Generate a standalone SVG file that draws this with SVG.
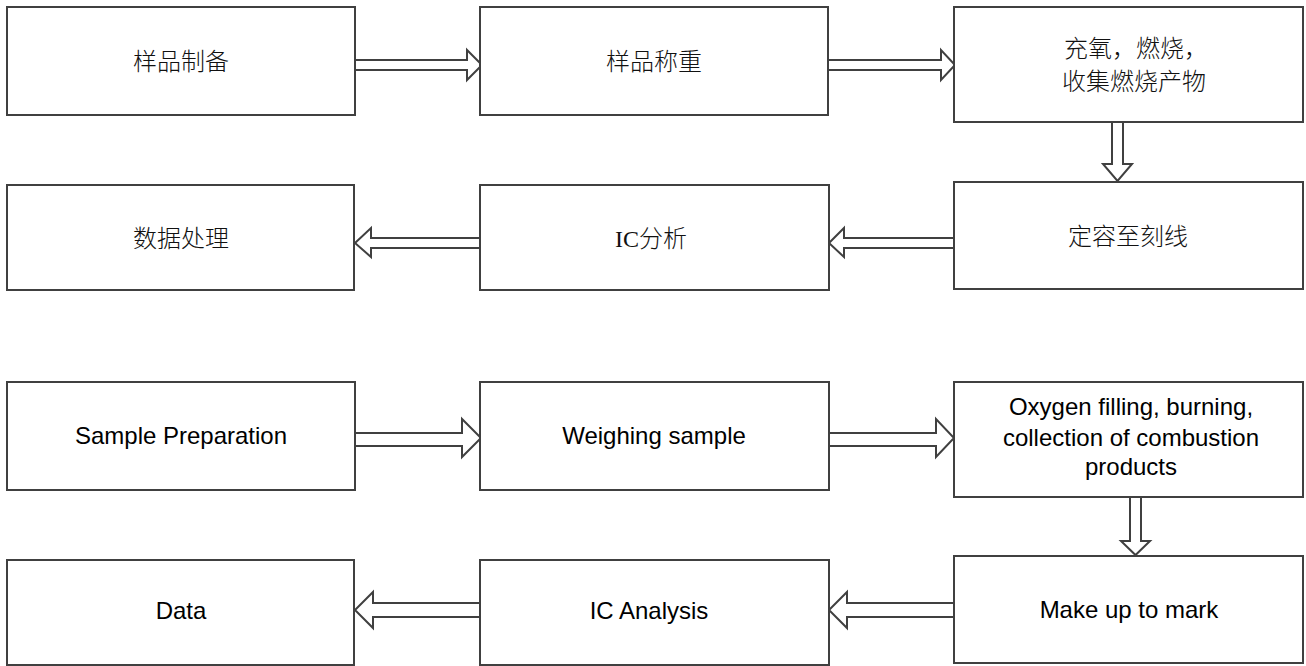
<svg xmlns="http://www.w3.org/2000/svg" width="1306" height="666" viewBox="0 0 1306 666">
<style>
.box{fill:#fff;stroke:#404040;stroke-width:2}
.arr{fill:#fff;stroke:#404040;stroke-width:2;stroke-linejoin:miter}
.zh{font-family:"Noto Sans CJK SC","Liberation Sans",sans-serif;font-size:24px;font-weight:300;fill:#111;text-anchor:middle}
.en{font-family:"Liberation Sans",Arial,sans-serif;font-size:24px;fill:#000;text-anchor:middle}
.ic{font-family:"Liberation Serif","Noto Sans CJK SC",serif;font-size:24px;font-weight:300;fill:#111;text-anchor:middle}
</style>
<rect width="1306" height="666" fill="#fff"/>
<g id="connectors">
<polygon class="arr" points="355,60 467,60 467,50 482,65 467,80 467,70 355,70"/>
<polygon class="arr" points="828,60 941,60 941,50 955,65 941,80 941,70 828,70"/>
<polygon class="arr" points="1112,122 1123,122 1123,164 1132,164 1117.5,181 1103,164 1112,164"/>
<polygon class="arr" points="954,238 844,238 844,228 829,243 844,257 844,248 954,248"/>
<polygon class="arr" points="480,238 371,238 371,228 355,243 371,257 371,248 480,248"/>
<polygon class="arr" points="355,433 462,433 462,419 481,438 462,457 462,446 355,446"/>
<polygon class="arr" points="829,433 936,433 936,419 954,438 936,457 936,446 829,446"/>
<polygon class="arr" points="1130,497 1141,497 1141,541 1150,541 1135.5,555 1121,541 1130,541"/>
<polygon class="arr" points="954,603 847,603 847,592 829,610 847,628 847,617 954,617"/>
<polygon class="arr" points="480,603 373,603 373,592 355,610 373,628 373,617 480,617"/>
</g>
<g id="n1"><rect class="box" x="7" y="7" width="348" height="108"/><text class="zh" x="181" y="70">样品制备</text></g>
<g id="n2"><rect class="box" x="480" y="7" width="348" height="108"/><text class="zh" x="654" y="70">样品称重</text></g>
<g id="n3"><rect class="box" x="954" y="7" width="349" height="115"/><text class="zh" x="1136" y="57">充氧，燃烧，</text><text class="zh" x="1134" y="90">收集燃烧产物</text></g>
<g id="n4"><rect class="box" x="954" y="182" width="349" height="107"/><text class="zh" x="1128" y="245">定容至刻线</text></g>
<g id="n5"><rect class="box" x="480" y="185" width="349" height="105"/><text class="ic" x="651" y="247">IC分析</text></g>
<g id="n6"><rect class="box" x="7" y="185" width="347" height="105"/><text class="zh" x="181" y="247">数据处理</text></g>
<g id="e1"><rect class="box" x="7" y="382" width="348" height="108"/><text class="en" x="181" y="444">Sample Preparation</text></g>
<g id="e2"><rect class="box" x="480" y="382" width="349" height="108"/><text class="en" x="654" y="444">Weighing sample</text></g>
<g id="e3"><rect class="box" x="954" y="382" width="349" height="115"/><text class="en" x="1131" y="415">Oxygen filling, burning,</text><text class="en" x="1131" y="446">collection of combustion</text><text class="en" x="1131" y="475">products</text></g>
<g id="e4"><rect class="box" x="954" y="556" width="349" height="107"/><text class="en" x="1129" y="618">Make up to mark</text></g>
<g id="e5"><rect class="box" x="480" y="560" width="349" height="105"/><text class="en" x="649" y="619">IC Analysis</text></g>
<g id="e6"><rect class="box" x="7" y="560" width="347" height="105"/><text class="en" x="181" y="619">Data</text></g>
</svg>
